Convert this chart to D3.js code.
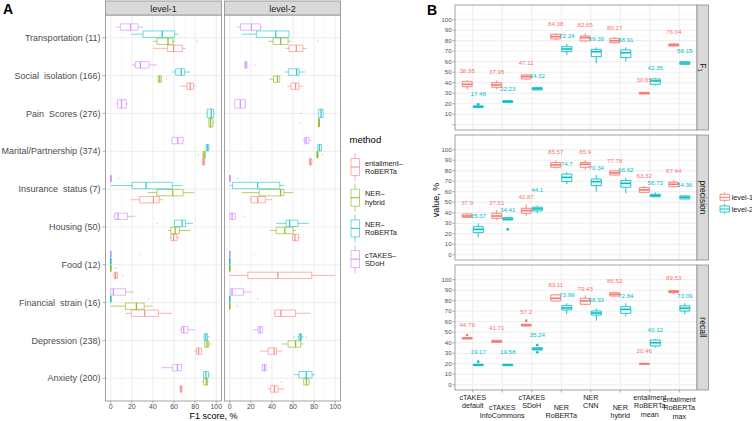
<!DOCTYPE html>
<html><head><meta charset="utf-8">
<script src="https://cdn.jsdelivr.net/npm/d3@7"></script>
<style>
body{margin:0;background:#fff}
text{font-family:"Liberation Sans",Arial,Helvetica,sans-serif}
</style></head>
<body><svg id="c" width="752" height="421"></svg>
<script>
// ---------------- DATA: panel A ----------------
const categories = ["Transportation (11)","Social  isolation (166)","Pain  Scores (276)","Marital/Partnership (374)","Insurance  status (7)","Housing (50)","Food (12)","Financial  strain (16)","Depression (238)","Anxiety (200)"];
const methods = ["entailment-RoBERTa","NER-hybrid","NER-RoBERTa","cTAKES-SDoH"];
const methodLegend = [["entailment–","RoBERTa"],["NER–","hybrid"],["NER–","RoBERTa"],["cTAKES–","SDoH"]];
const methodColors = ["#F8766D","#7CAE00","#00BFC4","#C77CFF"];
const levels = ["level-1","level-2"];
const f1Ticks = [0,20,40,60,80,100];
// [whisker low, Q1, median, Q3, whisker high] per category
const l1_entailment = [[40,53.6,59.6,67.8,71],[65.3,72.2,75.4,78.5,80],null,[86.5,86.8,88,89,89.3],[19.2,27.4,40.4,46,49.5],[55.8,57,59.6,62.8,65],[2.2,3.3,4.6,6.3,6.8],[13.9,19.6,32.1,45.2,58.2],[78.5,81.4,83.3,86,86.4],[65.6,65.8,66.6,67.6,67.8]];
const l1_hybrid = [[40,43.8,54.3,59,61],[44.8,44.8,46.4,48,48],[92.4,93,94.6,96.8,97.8],[87,87.4,88.6,89.6,90],[34.8,43.8,58.8,68.7,79.3],[54.3,57,61,65.3,75.4],[0,0,0,0,0],[0,13.9,24.3,31.7,39.3],[88,89,91.2,92.7,95.3],[86.4,88,90.5,91.8,92.7]];
const l1_roberta = [[19.6,30.6,48.9,60.6,64.4],[58.4,61.5,66.9,70,75.4],[90.5,91.5,95.3,97.5,98.4],[89.6,90.5,91.8,93,93.7],[0,20.3,33.5,58.2,68],[59.8,60.4,67.7,70.9,78],[0,0,0,0,0],[0,0,0,0,0],[88,88.6,90.2,91.8,93.7],[87,88,90.2,92.7,94.3]];
const l1_ctakes = [[4.7,9.1,18.9,25.9,30.6],[20.2,23.3,28.1,36.3,43.8],[4.7,6.3,10.2,14.5,16.4],[57.4,58,63.4,68.5,69],[0,0,0,0.5,0.5],[2.5,3.8,6.8,15.9,23.3],[0,0,0,0,0],[0,0,2.5,14,22.2],[65.3,66.9,69.2,73.2,79.8],[48,58.8,63.2,66.9,67.7]];
const l2_entailment = [[52.6,56.2,63.1,69.4,73.3],[54.5,58.1,62.4,65.5,69.4],null,[75,75.5,76.5,77.8,78.2],[19.2,20.2,26.5,33.7,40],[58.6,59.6,61.8,65.2,66.4],[0,17.1,45.6,77.7,100],[41.6,42.8,48.5,62.4,76.6],[28.4,36.5,42,44.3,49.4],[36,38.9,42.4,45.9,51.8]];
const l2_hybrid = [[36.5,41,48.3,55.3,58],[37.7,41.5,45.2,47.4,47.4],[84,84.4,84.6,84.8,85.2],[82.4,82.8,83,83.7,84.2],[11.2,27.9,48.2,51.3,60.3],[37.8,44,52.2,60,62.8],[0,0,0,0,0],[0,0,0,0,0],[49.4,55.3,62.4,67.2,69.8],[69.5,70.2,72.7,75,75.8]];
const l2_roberta = [[11.2,25.2,43.6,56.2,56.2],[52.2,55.6,63.4,65.6,71.3],[84,84.3,86.6,88.5,88.5],[83,83.5,85.1,87,87.5],[0.5,2.6,26.4,47.4,51.3],[44,53.4,56.8,64.7,75],[0,0,0,0,0],[0,0,0,0,0],[64,65.5,67,68,70],[60.8,65.5,72.5,78,81]];
const l2_ctakes = [[7,10.2,20.5,29,31],[14.1,14.1,15.4,16.3,16.3],[3.8,4.7,10,14.7,15.4],[69.5,71,72.5,75,77.5],[0,0,0,0.5,0.5],[0,0,2.2,5.2,6],[0,0,0,0,0],[0,0.5,2.2,13,21],[22.5,26.8,28.7,31.2,31.5],[31,31,32.9,34.5,34.5]];
// outliers: [method index, category index, value]
const l1_outliers = [[1,0,82],[1,1,52.7],[1,3,82.6],[3,4,7.6],[2,5,43.8],[3,6,27.7],[1,6,4.5],[0,6,11.5],[2,7,36]];
const l2_outliers = [[1,0,83.5],[3,1,23.9],[2,2,67.2],[1,2,67.2],[1,3,88],[3,4,7.5],[3,5,13.8],[3,6,23.7],[2,7,26.6],[1,7,7],[2,8,61],[2,8,72.5],[3,9,40],[1,9,48.8]];

// ---------------- DATA: panel B ----------------
const systems = ["cTAKES default","cTAKES InfoCommons","cTAKES SDoH","NER RoBERTa","NER CNN","NER hybrid","entailment RoBERTa mean","entailment RoBERTa max"];
const metrics = ["F1","precision","recall"];
const valueTicks = [0,10,20,30,40,50,60,70,80,90,100];
const f1_l1_label = [38.95,37.95,47.11,84.38,82.65,80.27,30.65,76.04];
const f1_l2_label = [17.48,22.23,34.32,72.24,69.39,68.91,42.35,58.15];
const prec_l1_label = [37.9,37.51,42.87,85.57,85.9,77.78,63.32,67.44];
const prec_l2_label = [25.37,34.41,44.1,74.7,70.34,68.62,56.73,54.96];
const rec_l1_label = [44.79,41.71,57.2,83.11,79.43,86.52,20.46,89.53];
const rec_l2_label = [19.17,19.58,35.24,73.99,68.93,72.84,40.12,73.09];
const f1_l1_box = [[33.8,36.2,38.5,41,42.6],[34,35.7,37.9,40,42],[42.8,43.6,45.8,47.4,48.3],[80.7,81.7,83.9,86.1,87.1],[78.8,79.8,82.9,84.5,87.1],[77.5,78.1,80,82.3,83.3],[29,29.3,30,30.9,31.2],[74.6,75,76,76.9,77.3]];
const f1_l2_box = [[16.3,16.6,17.2,17.9,18.3],[21,21.4,22,22.9,23.3],[32.8,33.1,34.3,35.3,35.6],[66.4,69.6,72.1,74.3,76.9],[58.5,64.8,69.6,71.8,73.7],[60.2,63.9,68.6,71.2,73.7],[37.4,38.5,41.7,43.6,44.6],[57.2,57.5,58.8,60,60.3]];
const prec_l1_box = [[35,35.6,36.9,38.8,39.5],[33.1,34.7,36.9,39.5,42.4],[36.9,39.5,42,44.2,48],[82.1,83.3,85.5,87.7,89.6],[81.1,83.3,86.1,87.7,90],[75.5,75.9,77.9,79.8,80.2],[59,59.4,61.7,63.9,65.5],[64,64.8,67.1,69,71.2]];
const prec_l2_box = [[16.6,21,24.2,26.7,29.9],[33,33.1,34,35.3,35.5],[39.7,41.7,43.6,45.2,46.7],[67.3,69.6,73.7,76.9,78.4],[60,65.8,69.6,72.1,75.9],[58.5,64.3,68,70.6,73.1],[55,55.3,56.3,57.6,59.4],[52.8,53.1,54.7,56,56.5]];
const rec_l1_box = [[43.4,43.6,44.2,44.8,45],[40.2,40.4,41.3,42.3,42.5],[55.7,55.9,56.9,57.5,57.7],[79.5,79.8,82.3,85.5,85.8],[76,76.6,79.8,82.3,85],[83.8,84.5,86.1,87.7,88.3],[19.3,19.5,20,20.4,20.6],[86.5,87.7,88.6,89.6,90.5]];
const rec_l2_box = [[18,18.2,18.8,19.5,19.7],[18,18.2,18.8,19.5,19.7],[33,33.1,34,35.3,35.5],[67.1,71.2,73.1,75.3,77.6],[61,66.4,68.3,70.2,72.8],[65.1,68,71.8,74.3,77.6],[35.5,36.9,40,42.6,43.5],[67.1,70.2,72.8,75,77.6]];
// outliers: [metric index, level index, system index, value]
const b_outliers = [[0,1,0,19.5],[1,1,1,24.2],[2,0,0,47.4],[2,1,0,22],[2,0,2,61],[2,1,2,37.9],[2,1,2,30.9]];
const levelColors = ["#F8766D","#00BFC4"];

// ---------------- DRAW ----------------
const svg = d3.select("#c");
svg.append("rect").attr("width",752).attr("height",421).attr("fill","#fff");
const GRID = "#EBEBEB", GRIDMIN = "#F5F5F5", BORDER = "#8C8C8C", AXT = "#4D4D4D";
const bp = (x1,x2,y1,y2) => `M${x1},${y1}H${x2}V${y2}H${x1}Z`;

// ===== Panel A =====
const yA = d3.scalePoint().domain(categories).range([15,401]).padding(0.6);
const stepA = yA.step();
const statsA = [[l1_entailment,l1_hybrid,l1_roberta,l1_ctakes],[l2_entailment,l2_hybrid,l2_roberta,l2_ctakes]];
const outA = [l1_outliers,l2_outliers];
const xAs = [d3.scaleLinear().domain([-5,105]).range([105.5,221.5]),
             d3.scaleLinear().domain([-5,105]).range([224.5,340.5])];
svg.append("text").attr("x",3).attr("y",14).attr("font-size",14).attr("font-weight","bold").attr("fill","#000").text("A");

function dodgeA(level, ci){
  const present = methods.map((m,k)=>k).filter(k=>statsA[level][k][ci]!==null);
  const n = present.length, W = 0.75*stepA, slot = W/n;
  const pos = {};
  present.forEach((k,j)=>{ pos[k] = yA(categories[ci]) + W/2 - slot*(j+0.5); });
  return {pos, h: 0.9*slot};
}

levels.forEach((lv,li)=>{
  const x = xAs[li];
  const [x0,x1] = x.range();
  const g = svg.append("g");
  g.append("rect").attr("x",x0).attr("y",15).attr("width",x1-x0).attr("height",386).attr("fill","#fff");
  d3.range(10,100,20).forEach(v=>g.append("line").attr("x1",x(v)).attr("x2",x(v)).attr("y1",15).attr("y2",401).attr("stroke",GRIDMIN).attr("stroke-width",0.5));
  f1Ticks.forEach(v=>g.append("line").attr("x1",x(v)).attr("x2",x(v)).attr("y1",15).attr("y2",401).attr("stroke",GRID).attr("stroke-width",0.9));
  categories.forEach(c=>g.append("line").attr("x1",x0).attr("x2",x1).attr("y1",yA(c)).attr("y2",yA(c)).attr("stroke",GRID).attr("stroke-width",0.9));
  categories.forEach((c,ci)=>{
    const d = dodgeA(li,ci);
    methods.forEach((m,k)=>{
      const s = statsA[li][k][ci];
      if(!s) return;
      const cy = d.pos[k], hh = d.h/2, col = methodColors[k];
      const bg = g.append("g").attr("stroke",col).attr("stroke-opacity",0.8).attr("fill","none");
      bg.append("line").attr("x1",x(s[0])).attr("x2",x(s[1])).attr("y1",cy).attr("y2",cy).attr("stroke-width",0.7);
      bg.append("line").attr("x1",x(s[3])).attr("x2",x(s[4])).attr("y1",cy).attr("y2",cy).attr("stroke-width",0.7);
      bg.append("path").attr("d",bp(x(s[1]),x(s[3]),cy-hh,cy+hh)).attr("fill","#fff").attr("stroke-width",0.7);
      bg.append("line").attr("x1",x(s[2])).attr("x2",x(s[2])).attr("y1",cy-hh).attr("y2",cy+hh).attr("stroke-width",1.3);
    });
  });
  outA[li].forEach(o=>{
    const d = dodgeA(li,o[1]);
    g.append("circle").attr("cx",x(o[2])).attr("cy",d.pos[o[0]]).attr("r",0.7).attr("fill",methodColors[o[0]]).attr("fill-opacity",0.5);
  });
  g.append("rect").attr("x",x0).attr("y",15).attr("width",x1-x0).attr("height",386).attr("fill","none").attr("stroke",BORDER).attr("stroke-width",0.8);
  g.append("rect").attr("x",x0).attr("y",1).attr("width",x1-x0).attr("height",14).attr("fill","#D9D9D9").attr("stroke",BORDER).attr("stroke-width",0.8);
  g.append("text").attr("x",(x0+x1)/2).attr("y",11.5).attr("text-anchor","middle").attr("font-size",9).attr("fill","#1A1A1A").text(lv);
  f1Ticks.forEach(v=>{
    g.append("line").attr("x1",x(v)).attr("x2",x(v)).attr("y1",401).attr("y2",403.5).attr("stroke",BORDER).attr("stroke-width",0.7);
    g.append("text").attr("x",x(v)).attr("y",408.5).attr("text-anchor","middle").attr("font-size",7).attr("fill",AXT).text(v);
  });
});
categories.forEach(c=>{
  svg.append("line").attr("x1",102.5).attr("x2",105.5).attr("y1",yA(c)).attr("y2",yA(c)).attr("stroke",BORDER).attr("stroke-width",0.7);
  svg.append("text").attr("x",100.5).attr("y",yA(c)).attr("dy","0.35em").attr("text-anchor","end").attr("font-size",9).attr("fill",AXT).style("white-space","pre").text(c);
});
svg.append("text").attr("x",213.5).attr("y",418.5).attr("text-anchor","middle").attr("font-size",9).attr("fill","#000").text("F1 score, %");
svg.append("text").attr("x",349.5).attr("y",143).attr("font-size",9.5).attr("fill","#000").text("method");
methods.forEach((m,k)=>{
  const cy = 167 + k*30.7, col = methodColors[k];
  const lg = svg.append("g").attr("stroke",col).attr("stroke-opacity",0.8).attr("fill","none");
  lg.append("line").attr("x1",355).attr("x2",355).attr("y1",cy-14).attr("y2",cy+14).attr("stroke-width",0.7);
  lg.append("path").attr("d",bp(351,359.5,cy-8.5,cy+8.5)).attr("fill","#fff").attr("stroke-width",0.7);
  lg.append("line").attr("x1",351).attr("x2",359.5).attr("y1",cy).attr("y2",cy).attr("stroke-width",1.1);
  methodLegend[k].forEach((t,j)=>svg.append("text").attr("x",365).attr("y",cy-4+j*8.3+2.6).attr("font-size",7.3).attr("fill","#1A1A1A").text(t));
});

// ===== Panel B =====
svg.append("text").attr("x",427).attr("y",15).attr("font-size",14).attr("font-weight","bold").attr("fill","#000").text("B");
const xB = d3.scalePoint().domain(systems).range([455,697]).padding(0.6);
const stepB = xB.step();
const facetTops = [5,135,265];
const boxesB = [[f1_l1_box,f1_l2_box],[prec_l1_box,prec_l2_box],[rec_l1_box,rec_l2_box]];
const labelsB = [[f1_l1_label,f1_l2_label],[prec_l1_label,prec_l2_label],[rec_l1_label,rec_l2_label]];
const WB = 0.75*stepB, slotB = WB/2, bwB = 0.9*slotB;
const offB = li => -WB/2 + slotB*(li+0.5);
const LFS = 6.2, LH = 6.8;
const labW = v => String(v).length*0.53*LFS;

metrics.forEach((mt,mi)=>{
  const top = facetTops[mi], bot = top+125;
  const y = d3.scaleLinear().domain([-5,114]).range([bot,top]);
  const g = svg.append("g");
  g.append("rect").attr("x",455).attr("y",top).attr("width",242).attr("height",125).attr("fill","#fff");
  d3.range(5,110,10).forEach(v=>g.append("line").attr("x1",455).attr("x2",697).attr("y1",y(v)).attr("y2",y(v)).attr("stroke",GRIDMIN).attr("stroke-width",0.5));
  valueTicks.forEach(v=>g.append("line").attr("x1",455).attr("x2",697).attr("y1",y(v)).attr("y2",y(v)).attr("stroke",GRID).attr("stroke-width",0.9));
  systems.forEach(s=>g.append("line").attr("x1",xB(s)).attr("x2",xB(s)).attr("y1",top).attr("y2",bot).attr("stroke",GRID).attr("stroke-width",0.9));
  systems.forEach((s,si)=>{
    const labPos = [];
    [0,1].forEach(li=>{
      const st = boxesB[mi][li][si], cx = xB(s)+offB(li), col = levelColors[li];
      const bg = g.append("g").attr("stroke",col).attr("fill","none");
      bg.append("line").attr("x1",cx).attr("x2",cx).attr("y1",y(st[0])).attr("y2",y(st[1])).attr("stroke-width",0.9);
      bg.append("line").attr("x1",cx).attr("x2",cx).attr("y1",y(st[3])).attr("y2",y(st[4])).attr("stroke-width",0.9);
      bg.append("path").attr("d",bp(cx-bwB/2,cx+bwB/2,y(st[3]),y(st[1]))).attr("fill","#fff").attr("stroke-width",0.9);
      bg.append("line").attr("x1",cx-bwB/2).attr("x2",cx+bwB/2).attr("y1",y(st[2])).attr("y2",y(st[2])).attr("stroke-width",1.6);
      const lab = labelsB[mi][li][si];
      labPos.push({x:cx, y:y(lab+12), v:lab, col});
    });
    // simple repel: separate the level-2 label vertically if it collides
    const a = labPos[0], b = labPos[1];
    if(Math.abs(a.x-b.x) < (labW(a.v)+labW(b.v))/2 && Math.abs(a.y-b.y) < LH){
      b.y = b.v >= a.v ? a.y - LH : a.y + LH;
    }
    labPos.forEach(p=>g.append("text").attr("x",p.x).attr("y",p.y).attr("dy","0.35em").attr("text-anchor","middle").attr("font-size",LFS).attr("fill",p.col).text(p.v));
  });
  b_outliers.filter(o=>o[0]===mi).forEach(o=>{
    g.append("circle").attr("cx",xB(systems[o[2]])+offB(o[1])).attr("cy",y(o[3])).attr("r",1.3).attr("fill",levelColors[o[1]]);
  });
  g.append("rect").attr("x",455).attr("y",top).attr("width",242).attr("height",125).attr("fill","none").attr("stroke",BORDER).attr("stroke-width",0.8);
  g.append("rect").attr("x",697).attr("y",top).attr("width",11.5).attr("height",125).attr("fill","#D9D9D9").attr("stroke",BORDER).attr("stroke-width",0.8);
  const st = g.append("text").attr("transform",`translate(702.7,${top+62.5}) rotate(90)`).attr("text-anchor","middle").attr("dy","0.35em").attr("font-size",8.5).attr("fill","#1A1A1A");
  if(mt==="F1"){ st.append("tspan").text("F"); st.append("tspan").attr("font-size",6).attr("dy","0.25em").text("1"); }
  else st.text(mt);
  valueTicks.forEach(v=>{
    g.append("line").attr("x1",452.5).attr("x2",455).attr("y1",y(v)).attr("y2",y(v)).attr("stroke",BORDER).attr("stroke-width",0.7);
    if(!(mi===0 && v===0))
      g.append("text").attr("x",451.5).attr("y",y(v)).attr("dy","0.35em").attr("text-anchor","end").attr("font-size",6).attr("fill",AXT).text(v);
  });
});
systems.forEach((s,si)=>{
  svg.append("line").attr("x1",xB(s)).attr("x2",xB(s)).attr("y1",390).attr("y2",392.5).attr("stroke",BORDER).attr("stroke-width",0.7);
  const lines = s.split(" ");
  const first = 397 + (si%2 ? (lines.length===3 ? 2 : 10) : 0);
  lines.forEach((t,j)=>svg.append("text").attr("x",xB(s)).attr("y",first+j*8.7).attr("dy","0.35em").attr("text-anchor","middle").attr("font-size",7.2).attr("fill","#1A1A1A").text(t));
});
svg.append("text").attr("transform","translate(439,200) rotate(-90)").attr("text-anchor","middle").attr("font-size",9).attr("fill","#000").text("value, %");
levels.forEach((lv,li)=>{
  const cy = 197.3 + li*11.7, col = levelColors[li];
  const lg = svg.append("g").attr("stroke",col).attr("fill","none");
  lg.append("line").attr("x1",724.5).attr("x2",724.5).attr("y1",cy-5).attr("y2",cy+5).attr("stroke-width",0.8);
  lg.append("path").attr("d",bp(720,729.5,cy-3,cy+3)).attr("fill","#fff").attr("stroke-width",0.8);
  lg.append("line").attr("x1",720).attr("x2",729.5).attr("y1",cy).attr("y2",cy).attr("stroke-width",1);
  svg.append("text").attr("x",731.7).attr("y",cy).attr("dy","0.35em").attr("font-size",7.3).attr("fill","#1A1A1A").text(lv);
});
</script></body></html>
